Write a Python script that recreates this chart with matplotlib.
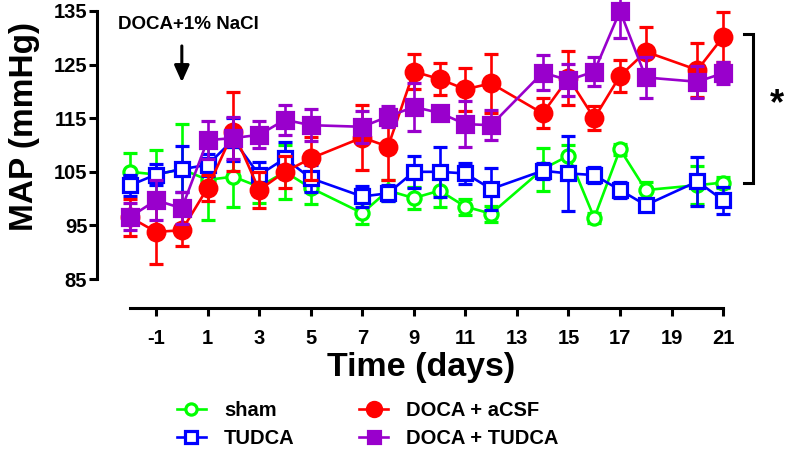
import matplotlib
matplotlib.use("Agg")
import matplotlib.pyplot as plt
from matplotlib.lines import Line2D

plt.rcParams['font.family'] = ['Liberation Sans', 'DejaVu Sans']
plt.rcParams['font.weight'] = 'bold'
plt.rcParams['axes.unicode_minus'] = False

# data
days = [-2, -1, 0, 1, 2, 3, 4, 5, 7, 8, 9, 10, 11, 12, 14, 15, 16, 17, 18, 20, 21]

sham = [105.0, 104.5, 105.5, 103.5, 104.1, 102.2, 105.0, 102.0, 97.3, 101.5, 100.1,
        101.5, 98.5, 97.2, 105.5, 108.0, 96.4, 109.2, 101.6, 102.5, 103.0]
sham_err = [3.5, 4.5, 8.5, 7.5, 5.6, 3.0, 5.0, 3.0, 2.0, 2.0, 2.0,
            3.0, 1.5, 1.5, 4.0, 2.0, 1.0, 1.0, 1.5, 3.5, 1.0]

tudca = [102.5, 104.5, 105.5, 106.3, 111.0, 104.4, 107.5, 103.8, 100.4, 101.0, 105.0,
         105.0, 104.7, 101.8, 105.2, 104.7, 104.4, 101.6, 98.8, 103.2, 99.7]
tudca_err = [2.0, 2.0, 4.3, 2.0, 4.0, 2.5, 3.0, 2.5, 2.0, 1.5, 3.0,
             4.7, 2.0, 4.0, 1.5, 7.0, 1.5, 1.5, 1.0, 4.6, 2.5]

acsf = [96.5, 93.8, 94.1, 102.0, 112.5, 101.6, 105.0, 107.5, 111.4, 109.7, 123.7,
        122.3, 120.4, 121.5, 115.9, 122.5, 115.0, 122.9, 127.4, 124.0, 130.2]
acsf_err = [3.5, 6.0, 3.0, 2.5, 7.3, 3.4, 3.0, 4.0, 6.0, 6.3, 3.2,
            3.0, 4.0, 5.5, 2.8, 5.0, 2.2, 3.0, 4.7, 5.0, 4.7]

doca_tudca = [96.6, 99.7, 98.2, 110.9, 111.3, 111.9, 114.7, 113.7, 113.4, 115.3, 117.1,
              116.0, 113.9, 113.7, 123.5, 122.1, 123.7, 135.0, 122.6, 121.8, 123.4]
doca_tudca_err = [2.5, 3.7, 3.0, 3.5, 4.0, 2.5, 2.8, 3.0, 3.0, 2.0, 4.5,
                  1.0, 4.3, 2.8, 3.3, 3.0, 2.7, 5.0, 3.8, 3.0, 2.0]

labels = ['sham', 'TUDCA', 'DOCA + aCSF', 'DOCA + TUDCA']
xticks = [-1, 1, 3, 5, 7, 9, 11, 13, 15, 17, 19, 21]
yticks = [85, 95, 105, 115, 125, 135]

green = '#00ff00'
blue = '#0000ff'
red = '#ff0000'
purple = '#9900cc'

fig = plt.figure(figsize=(7.85, 4.54), dpi=100)
ax = fig.add_axes([0.1236, 0.3216, 0.814, 0.666])

series = [
    (sham, sham_err, green, 'o', 'white', 9.5),
    (tudca, tudca_err, blue, 's', 'white', 9.5),
    (acsf, acsf_err, red, 'o', red, 12),
    (doca_tudca, doca_tudca_err, purple, 's', purple, 11),
]

handles = []
for i, (vals, err, col, mk, fc, ms) in enumerate(series):
    cont = ax.errorbar(days, vals, yerr=err, color=col, marker=mk, markersize=ms,
                       markerfacecolor=fc, markeredgecolor=col, markeredgewidth=2.3,
                       lw=1.9, elinewidth=1.9, capsize=5, capthick=1.9, zorder=3 + i)
    cont.lines[0].set_clip_on(False)
    for art in cont.lines[1] + cont.lines[2]:
        art.set_clip_on(False)
    handles.append(Line2D([], [], color=col, marker=mk, markersize=ms * 0.85,
                          markerfacecolor=fc, markeredgecolor=col,
                          markeredgewidth=2.3, lw=1.9))

ax.set_xlim(-3.29, 21.5)
ax.set_ylim(79.6, 136.0)
ax.spines['top'].set_visible(False)
ax.spines['right'].set_visible(False)
ax.spines['left'].set_bounds(85, 135)
ax.spines['bottom'].set_bounds(-2, 21)
ax.spines['left'].set_linewidth(2.2)
ax.spines['bottom'].set_linewidth(2.2)
ax.set_xticks(xticks)
ax.set_yticks(yticks)
ax.tick_params(axis='y', length=6, width=2.2, pad=1, labelsize=14.5)
ax.tick_params(axis='x', length=6, width=2.2, pad=9, labelsize=14.5)

ax.set_xlabel('Time (days)', fontsize=24.5, fontweight='bold', va='top')
ax.xaxis.set_label_coords(0.507, -0.145)
ax.set_ylabel('MAP (mmHg)', fontsize=24, fontweight='bold')
ax.yaxis.set_label_coords(-0.09, 0.6)

# treatment start annotation
ax.text(-2.47, 132.4, 'DOCA+1% NaCl', fontsize=13.5, fontweight='bold',
        ha='left', va='center')
ax.annotate('', xy=(0, 121.2), xytext=(0, 129.0),
            arrowprops=dict(arrowstyle='-|>,head_width=0.45,head_length=1.0',
                            color='black', lw=2.2), annotation_clip=False)

# significance bracket
ax.plot([21.82, 22.17, 22.17, 21.82], [130.7, 130.7, 102.9, 102.9],
        color='black', lw=2.2, clip_on=False, solid_joinstyle='miter')
ax.text(23.1, 117.5, '*', fontsize=26, fontweight='bold', ha='center', va='center')

fig.legend(handles, labels, ncol=2, frameon=False, loc='upper left',
           bbox_to_anchor=(0.225, 0.117), borderpad=0, borderaxespad=0,
           handlelength=1.45, handletextpad=0.9, columnspacing=3.2,
           labelspacing=0.45, prop={'size': 14.5, 'weight': 'bold'})

fig.savefig('out.png', dpi=100)
